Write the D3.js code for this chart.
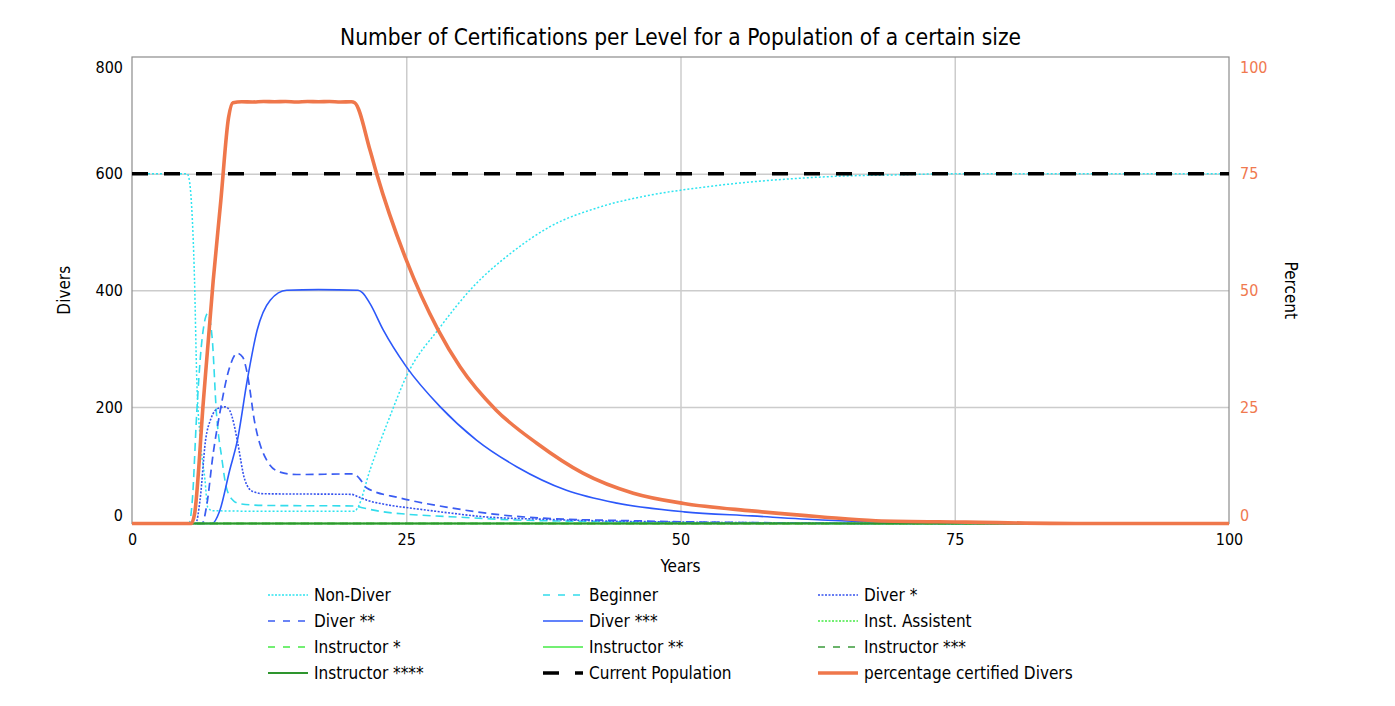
<!DOCTYPE html>
<html>
<head>
<meta charset="utf-8">
<script src="https://cdn.jsdelivr.net/npm/d3@7"></script>
<style>
  html, body { margin: 0; padding: 0; background: #fff; overflow: hidden; }
  svg { display: block; overflow: visible; }
  text { font-family: "DejaVu Sans Condensed", "DejaVu Sans", sans-serif; }
</style>
</head>
<body>
<div id="chart"></div>
<script>
// tick values
const yearTicks = [0, 25, 50, 75, 100];
const diverTicks = [0, 200, 400, 600, 800];
const percentTicks = [0, 25, 50, 75, 100];

// series, [year, value]
const nonDiver = [[0, 600], [5, 600], [5.1, 598], [5.4, 555], [5.7, 417], [5.9, 250], [6.2, 150], [6.65, 75], [6.9, 28], [7.3, 22], [12, 21], [20.3, 21], [20.6, 28], [21.7, 92], [23.5, 183], [25, 252], [28.1, 337], [31.1, 406], [34.5, 463], [38.1, 509], [42.7, 543], [47.2, 563], [51.8, 576], [56, 585], [60, 591], [65, 596], [70, 598], [75, 600], [100, 600]];
const beginner = [[0, 0], [5.2, 0], [5.5, 40], [5.9, 189], [6.3, 300], [6.9, 360], [7.3, 320], [7.7, 189], [8.2, 110], [8.6, 62], [9.2, 40], [9.8, 34], [12, 31], [20.3, 30], [21, 27], [22.9, 20], [25, 16], [29, 11.7], [35, 6], [40, 4], [50, 1.5], [60, 0.5], [70, 0], [100, 0]];
const diver1 = [[0, 0], [5.8, 0], [6.2, 40], [6.7, 142], [7.2, 180], [7.8, 197], [8.5, 200], [8.9, 194], [9.3, 170], [9.6, 142], [10.3, 74], [11, 55], [12, 51], [20, 50], [20.6, 46], [21.4, 40], [23, 33], [26, 25], [29, 18], [32, 11.7], [38, 7], [44, 4], [50, 2.5], [60, 1], [70, 0], [100, 0]];
const diver2 = [[0, 0], [6.4, 0], [6.8, 30], [7.4, 120], [8, 189], [8.9, 268], [9.6, 292], [10.1, 285], [10.5, 258], [11.2, 172], [12.3, 108], [13.5, 88], [15, 84], [20.2, 85], [20.7, 78], [21.4, 61], [24.4, 44], [29, 27], [33.5, 15], [38.7, 8], [45, 5], [50, 3], [60, 1], [70, 0], [100, 0]];
const diver3 = [[0, 0], [7.3, 0], [8, 22], [8.9, 91], [9.6, 142], [10.5, 245], [11.4, 331], [12.6, 383], [14.1, 400], [17, 401], [20.6, 400], [21, 396], [21.7, 377], [22.9, 332], [25, 269], [28.1, 200], [31.4, 143], [35.1, 97], [39.6, 57], [44.2, 35], [50.3, 20], [56.5, 13], [62.9, 6], [67.8, 2.4], [72, 0.5], [76, 0], [100, 0]];
const instAssistent = [[0, 0], [100, 0]];
const instructor1 = [[0, 0], [100, 0]];
const instructor2 = [[0, 0], [100, 0]];
const instructor3 = [[0, 0], [100, 0]];
const instructor4 = [[0, 0], [100, 0]];
const currentPopulation = [[0, 600], [100, 600]];
const percentCertified = [[0, 0], [5.4, 0], [5.7, 2], [6.5, 26], [7.4, 52], [8.1, 69.3], [8.8, 87], [9.2, 90.2], [10, 90.4], [11, 90.35], [12, 90.45], [13, 90.4], [14, 90.45], [15, 90.35], [16, 90.45], [17, 90.4], [18, 90.45], [19, 90.35], [20, 90.4], [20.3, 90.2], [21.7, 80], [22.3, 75], [25, 56.5], [27.9, 41.5], [29.9, 33.6], [33.2, 24.3], [36.9, 17.2], [41.1, 10.8], [45.7, 6.5], [50.3, 4.3], [56.5, 2.7], [62.9, 1.4], [67.8, 0.6], [76, 0.3], [86, 0], [100, 0]];

const series = [
  { name: 'Non-Diver', data: nonDiver, color: '#2ee4f0', width: 1.5, dash: '2,2', legendDash: '2,1.5' },
  { name: 'Beginner', data: beginner, color: '#33dcec', width: 1.6, dash: '8,5', legendDash: '7,8' },
  { name: 'Diver *', data: diver1, color: '#3552ee', width: 1.6, dash: '2,1.5', legendDash: '2,1.5' },
  { name: 'Diver **', data: diver2, color: '#3a5cf2', width: 1.7, dash: '8,5', legendDash: '7,8' },
  { name: 'Diver ***', data: diver3, color: '#2c58fa', width: 1.6, dash: null, legendDash: null },
  { name: 'Inst. Assistent', data: instAssistent, color: '#44ea44', width: 1.5, dash: '2,1.5', legendDash: '2,1.5' },
  { name: 'Instructor *', data: instructor1, color: '#44ea44', width: 1.6, dash: '8,5', legendDash: '7,8' },
  { name: 'Instructor **', data: instructor2, color: '#44ea44', width: 1.6, dash: null, legendDash: null },
  { name: 'Instructor ***', data: instructor3, color: '#3a9a3a', width: 1.6, dash: '8,5', legendDash: '7,8' },
  { name: 'Instructor ****', data: instructor4, color: '#2e952e', width: 2, dash: null, legendDash: null },
  { name: 'Current Population', data: currentPopulation, color: '#000', width: 3.5, dash: '16,16', legendDash: '16,16' },
  { name: 'percentage certified Divers', data: percentCertified, color: '#ef774b', width: 3.6, dash: null, legendDash: null, right: true }
];

const width = 1395, height = 706;
const margin = { top: 57, right: 166, bottom: 182.5, left: 132 };
const innerWidth = width - margin.left - margin.right;
const innerHeight = height - margin.top - margin.bottom;

const svg = d3.select('#chart').append('svg')
  .attr('width', width)
  .attr('height', height)
  .attr('viewBox', `0 0 ${width} ${height}`);

const mg = svg.append('g')
  .attr('transform', `translate(${margin.left},${margin.top})`);

const xScale = d3.scaleLinear().domain([0, 100]).range([0, innerWidth]);
const yScale = d3.scaleLinear().domain([0, 800]).range([innerHeight, 0]);
const yRight = d3.scaleLinear().domain([0, 100]).range([innerHeight, 0]);

// grid
mg.append('g')
  .attr('transform', `translate(0,${innerHeight})`)
  .call(d3.axisBottom(xScale).tickValues(yearTicks.slice(1, -1)).tickSize(-innerHeight).tickFormat(''))
  .call(g => g.select('.domain').remove())
  .selectAll('line').attr('stroke', '#cccccc').attr('stroke-width', 1.5);
mg.append('g')
  .call(d3.axisLeft(yScale).tickValues(diverTicks.slice(1, -1)).tickSize(-innerWidth).tickFormat(''))
  .call(g => g.select('.domain').remove())
  .selectAll('line').attr('stroke', '#cccccc').attr('stroke-width', 1.5);

// frame
mg.append('rect')
  .attr('width', innerWidth)
  .attr('height', innerHeight)
  .attr('fill', 'none')
  .attr('stroke', '#8c8c8c')
  .attr('stroke-width', 1.2);

// axes
const xAxis = mg.append('g')
  .attr('transform', `translate(0,${innerHeight})`)
  .call(d3.axisBottom(xScale).tickValues(yearTicks).tickSize(0).tickPadding(10));
const yAxis = mg.append('g')
  .call(d3.axisLeft(yScale).tickValues(diverTicks).tickSize(0).tickPadding(9));
const rAxis = mg.append('g')
  .attr('transform', `translate(${innerWidth},0)`)
  .call(d3.axisRight(yRight).tickValues(percentTicks).tickSize(0).tickPadding(11));

[xAxis, yAxis, rAxis].forEach(a => {
  a.select('.domain').remove();
  a.attr('font-family', null).attr('font-size', null);
  a.selectAll('text').attr('font-size', 16);
});
xAxis.selectAll('text').attr('fill', '#000');
yAxis.selectAll('text').attr('fill', '#000');
rAxis.selectAll('text').attr('fill', '#f0794f');
// end labels stay inside the frame
[yAxis, rAxis].forEach(a => {
  a.selectAll('.tick text').attr('dy', d => d === 0 ? '-0.2em' : (d === 800 || d === 100) ? '0.95em' : '0.32em');
});

// lines
const line = (scale) => d3.line()
  .x(d => xScale(d[0]))
  .y(d => scale(d[1]))
  .curve(d3.curveMonotoneX);

mg.append('g')
  .selectAll('path')
  .data(series)
  .join('path')
  .attr('d', s => line(s.right ? yRight : yScale)(s.data))
  .attr('fill', 'none')
  .attr('stroke', s => s.color)
  .attr('stroke-width', s => s.width)
  .attr('stroke-dasharray', s => s.dash)
  .attr('stroke-linejoin', 'round');

// titles
svg.append('text')
  .attr('x', margin.left + innerWidth / 2)
  .attr('y', 45)
  .attr('text-anchor', 'middle')
  .attr('font-size', 22.5)
  .text('Number of Certifications per Level for a Population of a certain size');
svg.append('text')
  .attr('x', margin.left + innerWidth / 2)
  .attr('y', 572)
  .attr('text-anchor', 'middle')
  .attr('font-size', 17)
  .text('Years');
svg.append('text')
  .attr('transform', `translate(70,${margin.top + innerHeight / 2}) rotate(-90)`)
  .attr('text-anchor', 'middle')
  .attr('font-size', 17)
  .text('Divers');
svg.append('text')
  .attr('transform', `translate(1285,${margin.top + innerHeight / 2}) rotate(90)`)
  .attr('text-anchor', 'middle')
  .attr('font-size', 17)
  .text('Percent');

// legend
const legend = svg.append('g')
  .selectAll('g')
  .data(series)
  .join('g')
  .attr('transform', (d, i) => `translate(${268 + (i % 3) * 275},${595 + Math.floor(i / 3) * 26})`);
legend.append('line')
  .attr('x1', 0).attr('x2', 40)
  .attr('stroke', d => d.color)
  .attr('stroke-width', d => d.width)
  .attr('stroke-dasharray', d => d.legendDash);
legend.append('text')
  .attr('x', 46)
  .attr('y', 6)
  .attr('font-size', 17)
  .text(d => d.name);
</script>
</body>
</html>
